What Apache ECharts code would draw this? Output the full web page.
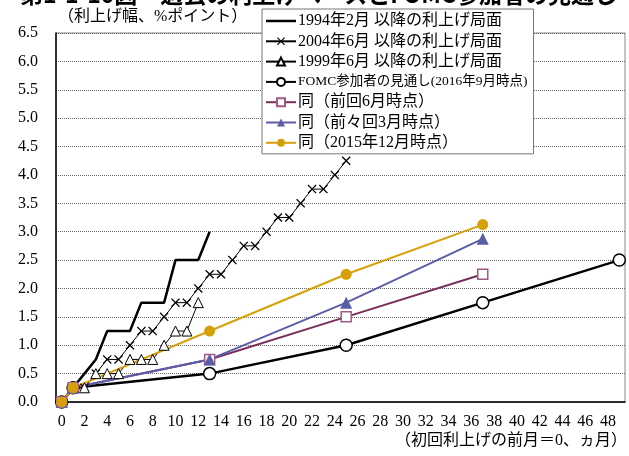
<!DOCTYPE html>
<html><head><meta charset="utf-8">
<script src="https://cdn.jsdelivr.net/npm/echarts@6/dist/echarts.min.js"></script>
<style>html,body{margin:0;padding:0;background:#fff;}#c{width:629px;height:456px;}</style>
</head><body><div id="c"></div>
<script>
const categories = Array.from({length: 50}, (_, i) => String(i));
const yTicks = [0,0.5,1,1.5,2,2.5,3,3.5,4,4.5,5,5.5,6,6.5];

const months1994 = [0,1,2,3,4,5,6,7,8,9,10,11,12,13];
const values1994 = [0,0.25,0.5,0.75,1.25,1.25,1.25,1.75,1.75,1.75,2.5,2.5,2.5,3.0];

const months2004 = [0,1,2,3,4,5,6,7,8,9,10,11,12,13,14,15,16,17,18,19,20,21,22,23,24,25];
const values2004 = [0,0.25,0.25,0.5,0.75,0.75,1.0,1.25,1.25,1.5,1.75,1.75,2.0,2.25,2.25,2.5,2.75,2.75,3.0,3.25,3.25,3.5,3.75,3.75,4.0,4.25];

const months1999 = [0,1,2,3,4,5,6,7,8,9,10,11,12];
const values1999 = [0,0.25,0.25,0.5,0.5,0.5,0.75,0.75,0.75,1.0,1.25,1.25,1.75];

const monthsSep16 = [0,1,13,25,37,49];
const valuesSep16 = [0,0.25,0.5,1.0,1.75,2.5];

const monthsJun16 = [0,1,13,25,37];
const valuesJun16 = [0,0.25,0.75,1.5,2.25];

const monthsMar16 = [0,1,13,25,37];
const valuesMar16 = [0,0.25,0.75,1.75,2.875];

const monthsDec15 = [0,1,13,25,37];
const valuesDec15 = [0,0.25,1.25,2.25,3.125];

const names = [
  '1994年2月 以降の利上げ局面',
  '2004年6月 以降の利上げ局面',
  '1999年6月 以降の利上げ局面',
  'FOMC参加者の見通し(2016年9月時点)',
  '同（前回6月時点）',
  '同（前々回3月時点）',
  '同（2015年12月時点）'
];

const pair = (ms, vs) => ms.map((m, i) => [m, vs[i]]);
const FONT = "'Liberation Serif','Noto Sans CJK JP',serif";
const crossPath = 'path://M0,1L1,0L5,4L9,0L10,1L6,5L10,9L9,10L5,6L1,10L0,9L4,5Z';

const chart = echarts.init(document.getElementById('c'), null, {renderer: 'canvas'});
chart.setOption({
  animation: false,
  backgroundColor: '#fff',
  textStyle: {fontFamily: FONT},
  grid: {left: 56, right: 4, top: 33, bottom: 54, show: true, borderColor: '#888', borderWidth: 1},
  graphic: [
    {type: 'text', left: 20, top: -17, style: {text: '第1-1-10図　過去の利上げペースとFOMC参加者の見通し', font: "bold 23px 'Noto Sans CJK JP'", fill: '#000'}},
    {type: 'text', left: 58, top: 9, style: {text: '（利上げ幅、%ポイント）', font: "16px 'Liberation Serif','Noto Sans CJK JP'", fill: '#000'}},
    {type: 'text', right: 2, top: 433, style: {text: '（初回利上げの前月＝0、ヵ月）', font: "16px 'Liberation Serif','Noto Sans CJK JP'", fill: '#000'}}
  ],
  legend: {
    orient: 'vertical', left: 262, top: 9, itemWidth: 30, itemHeight: 10, itemGap: 4.3,
    backgroundColor: '#fff', borderColor: '#777', borderWidth: 1, padding: [4, 6, 3, 3],
    textStyle: {fontSize: 16, lineHeight: 16, fontFamily: FONT, color: '#000', padding: [0,0,0,-3],
      rich: {s: {fontSize: 13.5, lineHeight: 16, fontFamily: FONT, color: '#000'}}},
    formatter: n => n === names[3] ? '{s|' + n + '}' : n,
    data: [{name: names[0], icon: 'path://M0,0L30,0L30,2.5L0,2.5Z'}, names[1], names[2], names[3], names[4], names[5], names[6]]
  },
  xAxis: {
    type: 'category', data: categories, boundaryGap: true,
    axisLine: {lineStyle: {color: '#000', width: 1.5}},
    axisTick: {interval: 1, inside: true, length: 5, lineStyle: {color: '#000'}},
    axisLabel: {interval: 1, fontSize: 16, fontFamily: FONT, color: '#000', margin: 12}
  },
  yAxis: {
    type: 'value', min: 0, max: 6.5, interval: 0.5,
    axisLine: {show: true, lineStyle: {color: '#000', width: 1.5}},
    axisTick: {show: false},
    axisLabel: {fontSize: 16, fontFamily: FONT, color: '#000', margin: 18, formatter: v => v.toFixed(1)},
    splitLine: {lineStyle: {color: '#666', type: [1, 1], width: 1}}
  },
  series: [
    {name: names[0], type: 'line', data: pair(months1994, values1994), symbol: 'none', color: '#000',
     lineStyle: {color: '#000', width: 2.5}},
    {name: names[1], type: 'line', data: pair(months2004, values2004), symbol: crossPath, symbolSize: 9, showAllSymbol: true, color: '#000',
     itemStyle: {color: '#000'}, lineStyle: {color: '#000', width: 1}},
    {name: names[2], type: 'line', data: pair(months1999, values1999), symbol: 'triangle', symbolSize: 10, showAllSymbol: true, color: '#000',
     itemStyle: {color: '#fff', borderColor: '#000', borderWidth: 1}, lineStyle: {color: '#000', width: 1}},
    {name: names[3], type: 'line', data: pair(monthsSep16, valuesSep16), symbol: 'circle', symbolSize: 12, showAllSymbol: true, color: '#000',
     itemStyle: {color: '#fff', borderColor: '#000', borderWidth: 1.5}, lineStyle: {color: '#000', width: 2.5}},
    {name: names[4], type: 'line', data: pair(monthsJun16, valuesJun16), symbol: 'rect', symbolSize: 10, showAllSymbol: true, color: '#7a2e5a',
     itemStyle: {color: '#fff', borderColor: '#a05a84', borderWidth: 1.5}, lineStyle: {color: '#7a2e5a', width: 2}},
    {name: names[5], type: 'line', data: pair(monthsMar16, valuesMar16), symbol: 'triangle', symbolSize: 12, showAllSymbol: true, color: '#5b5ea6',
     itemStyle: {color: '#5b5ea6'}, lineStyle: {color: '#5b5ea6', width: 2}},
    {name: names[6], type: 'line', data: pair(monthsDec15, valuesDec15), symbol: 'circle', symbolSize: 11, showAllSymbol: true, color: '#d6a00a',
     itemStyle: {color: '#d6a00a'}, lineStyle: {color: '#d6a00a', width: 2}}
  ]
});
</script></body></html>
